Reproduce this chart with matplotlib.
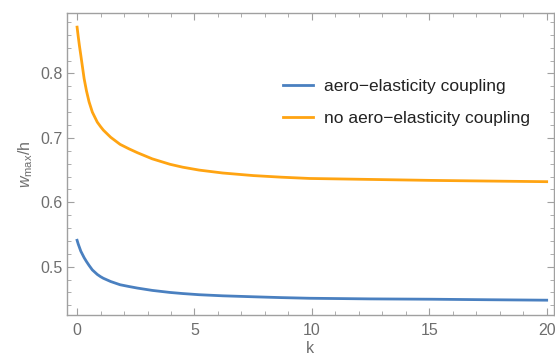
import matplotlib
matplotlib.use("Agg")
import matplotlib.pyplot as plt
from matplotlib.ticker import MultipleLocator

# values
k_values = [0.0, 0.05, 0.1, 0.16, 0.3, 0.4, 0.51, 0.65, 0.86, 1.0, 1.12, 1.43, 1.83, 2.2,
            2.57, 3.2, 3.96, 4.5, 5.2, 6.2, 7.5, 8.7, 9.9, 12.5, 15.1, 17.5, 20.0]
coupled = [0.541, 0.535, 0.530, 0.524, 0.514, 0.508, 0.502, 0.495, 0.488, 0.4845, 0.482,
           0.477, 0.472, 0.4693, 0.4668, 0.4632, 0.4600, 0.4583, 0.4565, 0.4548, 0.4533,
           0.452, 0.451, 0.450, 0.4495, 0.4487, 0.448]
uncoupled = [0.872, 0.857, 0.843, 0.828, 0.792, 0.773, 0.756, 0.740, 0.7245, 0.7175,
             0.712, 0.701, 0.690, 0.6832, 0.677, 0.6675, 0.659, 0.6545, 0.650, 0.6455,
             0.6415, 0.639, 0.637, 0.6355, 0.634, 0.633, 0.632]

labels = ["aero\u2212elasticity coupling", "no aero\u2212elasticity coupling"]
colors = ["#4a80c0", "#ffa412"]

plt.rcParams["font.family"] = ["Liberation Sans", "DejaVu Sans"]
plt.rcParams["mathtext.fontset"] = "custom"
plt.rcParams["mathtext.rm"] = "Liberation Sans"
plt.rcParams["mathtext.it"] = "Liberation Sans:italic"

text_grey = "#6e6e6e"
frame_grey = "#a0a0a0"

fig = plt.figure(figsize=(5.55, 3.6), dpi=100)
ax = fig.add_axes([0.1207, 0.125, 0.877, 0.839])

ax.plot(k_values, coupled, color=colors[0], lw=2.0, label=labels[0],
        solid_joinstyle="round")
ax.plot(k_values, uncoupled, color=colors[1], lw=2.0, label=labels[1],
        solid_joinstyle="round")

ax.set_xlim(-0.43, 20.3)
ax.set_ylim(0.425, 0.894)
ax.xaxis.set_major_locator(MultipleLocator(5))
ax.xaxis.set_minor_locator(MultipleLocator(1))
ax.yaxis.set_major_locator(MultipleLocator(0.1))
ax.yaxis.set_minor_locator(MultipleLocator(0.02))
ax.set_xticks([0, 5, 10, 15, 20])
ax.set_xticklabels(["0", "5", "10", "15", "20"])

ax.tick_params(which="both", direction="in", top=True, right=True, color=frame_grey,
               labelcolor=text_grey, labelsize=11.5)
ax.tick_params(which="major", length=5, width=0.8)
ax.tick_params(which="minor", length=3, width=0.6)
ax.tick_params(axis="x", which="major", pad=6)
ax.tick_params(axis="y", which="major", pad=3)
for spine in ax.spines.values():
    spine.set_color(frame_grey)
    spine.set_linewidth(1.0)

ax.set_xlabel("k", color=text_grey, fontsize=11.5, labelpad=2)
ax.set_ylabel(r"$w_{\mathrm{max}}$/h", color=text_grey, fontsize=11.5, labelpad=4)

leg = ax.legend(loc="upper left", bbox_to_anchor=(0.429, 0.805), borderaxespad=0,
                frameon=False, fontsize=12.5, handlelength=1.75, handletextpad=0.6,
                labelspacing=1.0)
for txt in leg.get_texts():
    txt.set_color("#222222")

fig.savefig("out.png", dpi=100)
